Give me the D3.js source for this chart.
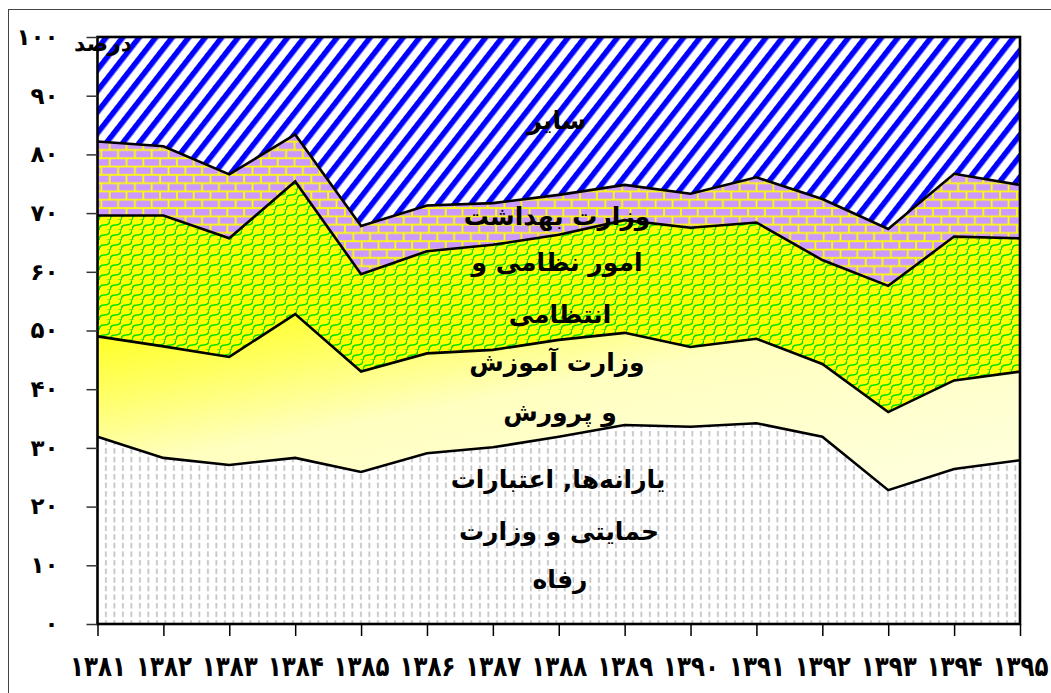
<!DOCTYPE html>
<html lang="fa">
  <head>
    <meta charset="UTF-8" />
    <title>سهم ردیف‌های هزینه</title>
    <script src="https://d3js.org/d3.v7.min.js"></script>
    <style>
      body {
        margin: 0;
        background: #ffffff;
        font-family: 'DejaVu Sans', sans-serif;
      }
      svg {
        display: block;
      }
      .lbl {
        font-weight: bold;
        fill: #000;
        text-anchor: middle;
      }
    </style>
  </head>
  <body>
    <div id="chart"></div>
    <script>
      const years = ['۱۳۸۱', '۱۳۸۲', '۱۳۸۳', '۱۳۸۴', '۱۳۸۵', '۱۳۸۶', '۱۳۸۷', '۱۳۸۸',
        '۱۳۸۹', '۱۳۹۰', '۱۳۹۱', '۱۳۹۲', '۱۳۹۳', '۱۳۹۴', '۱۳۹۵'];
      const yTicks = [0, 10, 20, 30, 40, 50, 60, 70, 80, 90, 100];
      const yTickLabels = ['٠', '۱۰', '۲۰', '۳۰', '۴۰', '۵۰', '۶۰', '۷۰', '۸۰', '۹۰', '۱۰۰'];

      // share of each item (percent), bottom to top
      const subsidies = [31.9, 28.3, 27.1, 28.3, 25.9, 29.1, 30.1, 31.9, 33.9, 33.6, 34.2, 31.9, 22.8, 26.4, 27.9];
      const education = [17.1, 19.0, 18.4, 24.5, 17.1, 17.0, 16.6, 16.5, 15.7, 13.6, 14.4, 12.4, 13.3, 15.1, 15.1];
      const military = [20.6, 22.3, 20.2, 22.6, 16.6, 17.4, 17.9, 17.9, 19.2, 20.3, 19.8, 17.7, 21.5, 24.5, 22.7];
      const health = [12.6, 11.8, 10.9, 8.0, 8.2, 7.8, 7.1, 6.8, 6.0, 5.8, 7.7, 10.4, 9.7, 10.7, 9.1];
      const other = [17.8, 18.6, 23.4, 16.6, 32.2, 28.7, 28.3, 26.9, 25.2, 26.7, 23.9, 27.6, 32.7, 23.3, 25.2];

      const seriesKeys = ['subsidies', 'education', 'military', 'health', 'other'];
      const seriesLabels = {
        subsidies: ['یارانه‌ها, اعتبارات', 'حمایتی و وزارت', 'رفاه'],
        education: ['وزارت آموزش', 'و پرورش'],
        military: ['امور نظامی و', 'انتظامی'],
        health: ['وزارت بهداشت'],
        other: ['سایر'],
      };

      const table = years.map((yr, i) => ({
        year: yr,
        subsidies: subsidies[i],
        education: education[i],
        military: military[i],
        health: health[i],
        other: other[i],
      }));

      const W = 1051, H = 693;
      const mLeft = 97.5, mRight = 1020, mTop = 37, mBottom = 624;

      const svg = d3.select('#chart').append('svg')
        .attr('width', W).attr('height', H);

      // outer frame (right and bottom sides fall outside the picture)
      svg.append('rect')
        .attr('x', 8.5).attr('y', 9.5)
        .attr('width', 1060).attr('height', 700)
        .attr('fill', 'none').attr('stroke', '#444').attr('stroke-width', 1);

      const defs = svg.append('defs');

      // dashes for subsidies
      const pDash = defs.append('pattern').attr('id', 'pDash')
        .attr('patternUnits', 'userSpaceOnUse').attr('width', 8.5).attr('height', 8.6);
      pDash.append('rect').attr('width', 8.5).attr('height', 8.6).attr('fill', '#fff');
      pDash.append('rect').attr('x', 3).attr('y', 1).attr('width', 1.8).attr('height', 5.5).attr('fill', '#c4c4c4');

      // gradient for education
      const grad = defs.append('linearGradient').attr('id', 'gEdu')
        .attr('x1', 0).attr('y1', 0).attr('x2', 1).attr('y2', 1);
      grad.append('stop').attr('offset', 0).attr('stop-color', '#ffff10');
      grad.append('stop').attr('offset', 0.22).attr('stop-color', '#ffff60');
      grad.append('stop').attr('offset', 0.45).attr('stop-color', '#ffffc0');
      grad.append('stop').attr('offset', 1).attr('stop-color', '#ffffe0');

      // scale pattern for military
      const pScale = defs.append('pattern').attr('id', 'pScale')
        .attr('patternUnits', 'userSpaceOnUse').attr('width', 11).attr('height', 10);
      pScale.append('rect').attr('width', 11).attr('height', 10).attr('fill', '#ffff00');
      pScale.append('path')
        .attr('d', 'M0,10 Q0,5 5.5,5 Q11,5 11,0 M-5.5,5 Q-5.5,0 0,0 M5.5,15 Q5.5,10 11,10')
        .attr('fill', 'none').attr('stroke', '#00e000').attr('stroke-width', 1.5);

      // bricks for health
      const pBrick = defs.append('pattern').attr('id', 'pBrick')
        .attr('patternUnits', 'userSpaceOnUse').attr('width', 16.8).attr('height', 16.6);
      pBrick.append('rect').attr('width', 16.8).attr('height', 16.6).attr('fill', '#ffff00');
      pBrick.append('rect').attr('x', 1.4).attr('y', 1.4).attr('width', 15).attr('height', 6.6).attr('fill', '#cc99ff');
      pBrick.append('rect').attr('x', -7).attr('y', 9.7).attr('width', 15).attr('height', 6.6).attr('fill', '#cc99ff');
      pBrick.append('rect').attr('x', 9.8).attr('y', 9.7).attr('width', 15).attr('height', 6.6).attr('fill', '#cc99ff');

      // stripes for other
      const pStripe = defs.append('pattern').attr('id', 'pStripe')
        .attr('patternUnits', 'userSpaceOnUse').attr('width', 13).attr('height', 13)
        .attr('patternTransform', 'rotate(38)');
      pStripe.append('rect').attr('width', 13).attr('height', 13).attr('fill', '#fff');
      pStripe.append('rect').attr('x', 0).attr('width', 5.5).attr('height', 13).attr('fill', '#0000ff');

      const fills = {
        subsidies: 'url(#pDash)',
        education: 'url(#gEdu)',
        military: 'url(#pScale)',
        health: 'url(#pBrick)',
        other: 'url(#pStripe)',
      };

      const x = d3.scalePoint().domain(years).range([mLeft, mRight]);
      const y = d3.scaleLinear().domain([0, 100]).range([mBottom, mTop]);

      const stacked = d3.stack().keys(seriesKeys)(table);

      const area = d3.area()
        .x((d) => x(d.data.year))
        .y0((d) => y(d[0]))
        .y1((d) => y(d[1]));

      const line = d3.line()
        .x((d) => x(d.data.year))
        .y((d) => y(d[1]));

      svg.append('g').selectAll('path')
        .data(stacked)
        .join('path')
        .attr('d', area)
        .attr('fill', (s) => fills[s.key]);

      svg.append('g').selectAll('path')
        .data(stacked.slice(0, 4))
        .join('path')
        .attr('d', line)
        .attr('fill', 'none')
        .attr('stroke', '#000')
        .attr('stroke-width', 2.6)
        .attr('stroke-linejoin', 'miter');

      // plot frame
      svg.append('rect')
        .attr('x', mLeft).attr('y', mTop)
        .attr('width', mRight - mLeft).attr('height', mBottom - mTop)
        .attr('fill', 'none').attr('stroke', '#000').attr('stroke-width', 2.6);

      // axes
      const yAxis = svg.append('g')
        .attr('transform', `translate(${mLeft},0)`)
        .call(d3.axisLeft(y).tickValues(yTicks)
          .tickFormat((d, i) => yTickLabels[i]).tickSize(11).tickPadding(28));
      yAxis.select('.domain').remove();
      yAxis.selectAll('line').attr('stroke', '#333').attr('stroke-width', 1.5);
      yAxis.selectAll('text')
        .attr('font-family', 'DejaVu Sans').attr('font-weight', 'bold')
        .attr('font-size', 23).attr('fill', '#000');

      const xAxis = svg.append('g')
        .attr('transform', `translate(0,${mBottom})`)
        .call(d3.axisBottom(x).tickSize(12).tickPadding(20));
      xAxis.select('.domain').remove();
      xAxis.selectAll('line').attr('stroke', '#000').attr('stroke-width', 1.5);
      xAxis.selectAll('text')
        .attr('font-family', 'DejaVu Sans').attr('font-weight', 'bold')
        .attr('font-size', 28).attr('fill', '#000')
        .attr('textLength', 56).attr('lengthAdjust', 'spacingAndGlyphs');

      // unit
      svg.append('text')
        .attr('x', 103).attr('y', 43)
        .attr('class', 'lbl')
        .attr('dy', '0.35em')
        .attr('font-size', 22)
        .text('درصد');

      // series labels
      const labelPos = {
        other: [{ x: 557, y: 120 }],
        health: [{ x: 557, y: 216 }],
        military: [{ x: 557, y: 262 }, { x: 560, y: 314 }],
        education: [{ x: 557, y: 362 }, { x: 560, y: 412 }],
        subsidies: [{ x: 558, y: 479 }, { x: 559, y: 531 }, { x: 560, y: 579 }],
      };
      seriesKeys.forEach((k) => {
        seriesLabels[k].forEach((t, i) => {
          svg.append('text')
            .attr('class', 'lbl')
            .attr('x', labelPos[k][i].x)
            .attr('y', labelPos[k][i].y)
            .attr('dy', '0.35em')
            .attr('font-size', 25)
            .text(t);
        });
      });
    </script>
  </body>
</html>
